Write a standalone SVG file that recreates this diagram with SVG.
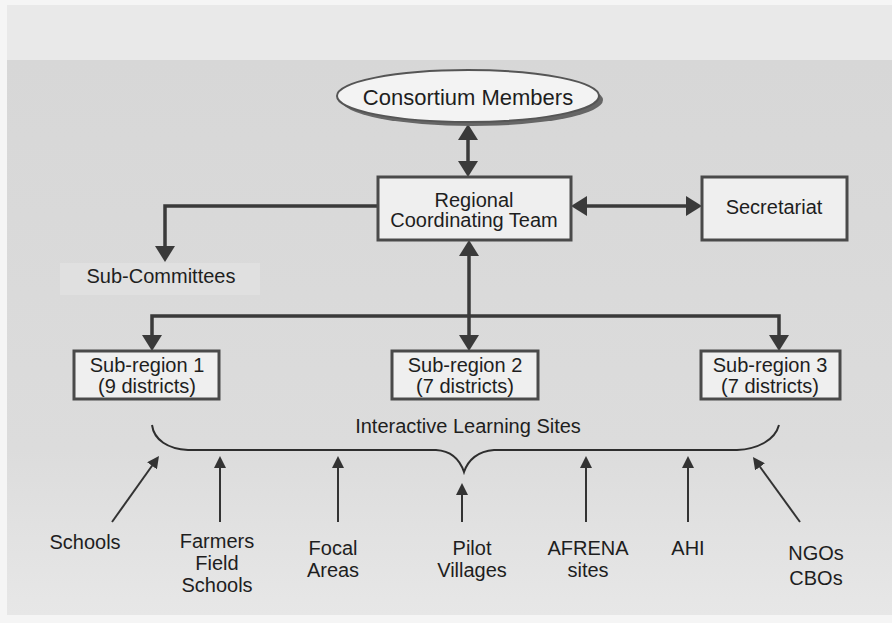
<svg xmlns="http://www.w3.org/2000/svg" width="892" height="623" viewBox="0 0 892 623">
  <defs>
    <linearGradient id="bg" x1="0" y1="0" x2="0" y2="1">
      <stop offset="0" stop-color="#d7d7d7"/>
      <stop offset="0.7" stop-color="#dcdcdc"/>
      <stop offset="1" stop-color="#e7e7e7"/>
    </linearGradient>
    <marker id="ah" viewBox="0 0 16 20" refX="2" refY="10" markerWidth="16" markerHeight="20" markerUnits="userSpaceOnUse" orient="auto-start-reverse">
      <path d="M0,0 L16,10 L0,20 z" fill="#3a3a3a"/>
    </marker>
    <marker id="th" viewBox="0 0 12 12" refX="1" refY="6" markerWidth="12" markerHeight="12" markerUnits="userSpaceOnUse" orient="auto">
      <path d="M0,0 L12,6 L0,12 z" fill="#333"/>
    </marker>
  </defs>
  <style>
    text { font-family: "Liberation Sans", Arial, sans-serif; font-size: 20px; fill: #1e1e1e; text-anchor: middle; }
    .box { fill: #efefef; stroke: #4a4a4a; stroke-width: 3; }
    .thick { fill: none; stroke: #3a3a3a; stroke-width: 3.5; }
    .thin { fill: none; stroke: #333; stroke-width: 2; }
    .brace { fill: none; stroke: #2e2e2e; stroke-width: 2; }
  </style>

  <rect x="0" y="0" width="892" height="623" fill="#f5f5f5"/>
  <rect x="7" y="5" width="885" height="55" fill="#e9e9e9"/>
  <rect x="7" y="60" width="885" height="555" fill="url(#bg)"/>

  <g id="connectors">
    <path class="thick" d="M468,138 V163" marker-start="url(#ah)" marker-end="url(#ah)"/>
    <path class="thick" d="M585,206 H688" marker-start="url(#ah)" marker-end="url(#ah)"/>
    <path class="thick" d="M378,206 H165 V248" marker-end="url(#ah)"/>
    <path class="thick" d="M469,254 V337" marker-start="url(#ah)" marker-end="url(#ah)"/>
    <path class="thick" d="M152,337 V316 H779 V337" marker-start="url(#ah)" marker-end="url(#ah)"/>
    <path class="brace" d="M152,425 C154,440 168,449 188,450 H436 C452,451 460,460 464,472 C468,460 478,451 494,450 H737 C758,449 775,440 779,425"/>
    <path class="thin" d="M112,522 L152.6,465" marker-end="url(#th)"/>
    <path class="thin" d="M220,522 V467" marker-end="url(#th)"/>
    <path class="thin" d="M338,522 V467" marker-end="url(#th)"/>
    <path class="thin" d="M462,522 V494" marker-end="url(#th)"/>
    <path class="thin" d="M586,522 V467" marker-end="url(#th)"/>
    <path class="thin" d="M688,522 V467" marker-end="url(#th)"/>
    <path class="thin" d="M800,522 L759.4,466" marker-end="url(#th)"/>
  </g>

  <g id="consortium">
    <ellipse cx="472" cy="100" rx="131" ry="26" fill="#666"/>
    <ellipse cx="468" cy="96" rx="131" ry="26" fill="#f3f3f3" stroke="#555" stroke-width="2"/>
    <text x="468" y="105" style="font-size:22px">Consortium Members</text>
  </g>

  <g id="rct">
    <rect class="box" x="378" y="177" width="193" height="63"/>
    <text x="474" y="207">Regional</text>
    <text x="474" y="227">Coordinating Team</text>
  </g>

  <g id="secretariat">
    <rect class="box" x="702" y="177" width="145" height="63"/>
    <text x="774" y="214">Secretariat</text>
  </g>

  <g id="subcommittees">
    <rect x="60" y="263" width="200" height="32" fill="#e0e0e0"/>
    <text x="161" y="283">Sub-Committees</text>
  </g>

  <g id="subregion1">
    <rect class="box" x="74" y="351" width="145" height="48"/>
    <text x="147" y="372">Sub-region 1</text>
    <text x="147" y="393">(9 districts)</text>
  </g>

  <g id="subregion2">
    <rect class="box" x="392" y="351" width="146" height="48"/>
    <text x="465" y="372">Sub-region 2</text>
    <text x="465" y="393">(7 districts)</text>
  </g>

  <g id="subregion3">
    <rect class="box" x="701" y="351" width="139" height="48"/>
    <text x="770" y="372">Sub-region 3</text>
    <text x="770" y="393">(7 districts)</text>
  </g>

  <g id="ils">
    <text x="468" y="433">Interactive Learning Sites</text>
  </g>

  <g id="schools">
    <text x="85" y="549">Schools</text>
  </g>
  <g id="ffs">
    <text x="217" y="548">Farmers</text>
    <text x="217" y="570">Field</text>
    <text x="217" y="592">Schools</text>
  </g>
  <g id="focal">
    <text x="333" y="555">Focal</text>
    <text x="333" y="577">Areas</text>
  </g>
  <g id="pilot">
    <text x="472" y="555">Pilot</text>
    <text x="472" y="577">Villages</text>
  </g>
  <g id="afrena">
    <text x="588" y="555">AFRENA</text>
    <text x="588" y="577">sites</text>
  </g>
  <g id="ahi">
    <text x="688" y="555">AHI</text>
  </g>
  <g id="ngos">
    <text x="816" y="560">NGOs</text>
    <text x="816" y="585">CBOs</text>
  </g>
</svg>
